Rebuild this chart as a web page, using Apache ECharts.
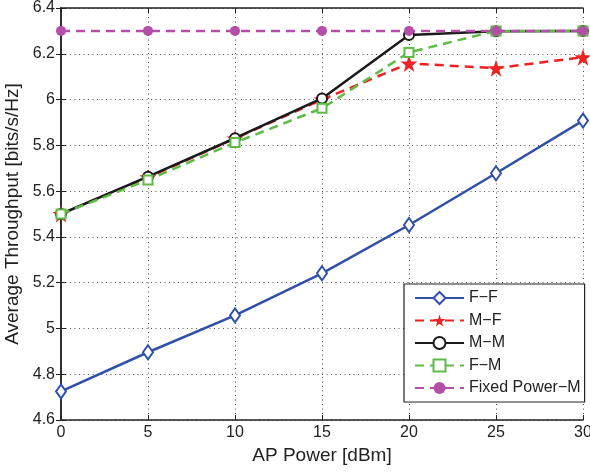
<!DOCTYPE html>
<html>
<head>
<meta charset="utf-8">
<script src="https://cdn.jsdelivr.net/npm/echarts@6/dist/echarts.min.js"></script>
<style>
  html, body { margin: 0; padding: 0; background: #fff; }
  #chart { width: 590px; height: 472px; }
</style>
</head>
<body>
<div id="chart"></div>
<script>
// AP transmit power (dBm)
const apPower = [0, 5, 10, 15, 20, 25, 30];

// Average throughput per scheme (bits/s/Hz)
const ffValues    = [4.725, 4.896, 5.057, 5.241, 5.452, 5.678, 5.908];
const mfValues    = [5.50, 5.66, 5.83, 6.00, 6.158, 6.137, 6.185];
const mmValues    = [5.50, 5.663, 5.831, 6.005, 6.282, 6.298, 6.30];
const fmValues    = [5.50, 5.649, 5.812, 5.962, 6.206, 6.30, 6.30];
const fixedValues = [6.30, 6.30, 6.30, 6.30, 6.30, 6.30, 6.30];

const seriesNames = ['F\u2212F', 'M\u2212F', 'M\u2212M', 'F\u2212M', 'Fixed Power\u2212M'];

const yTicks = [4.6, 4.8, 5, 5.2, 5.4, 5.6, 5.8, 6, 6.2, 6.4];
const xTicks = [0, 5, 10, 15, 20, 25, 30];

const starPath = 'path://M50,0 L61.8,35.1 L98.9,35.1 L68.9,56.8 L80.3,91.9 L50,70.2 L19.7,91.9 L31.1,56.8 L1.1,35.1 L38.2,35.1 Z';

const FONT = 'Liberation Sans, Arial, Helvetica, sans-serif';
const TEXT = '#222';

function pairs(vals) { return apPower.map((x, i) => [x, vals[i]]); }

const chart = echarts.init(document.getElementById('chart'), null, { renderer: 'canvas' });

const frameLine = { show: true, lineStyle: { color: '#222', width: 1.5 } };
const innerTick = { show: true, inside: true, length: 5, lineStyle: { color: '#222' } };
const dotGrid = { show: true, lineStyle: { color: '#555', width: 1, type: [1, 3.5] } };

chart.setOption({
  animation: false,
  backgroundColor: '#fff',
  grid: { left: 61, top: 8, right: 7, bottom: 52, containLabel: false, outerBoundsMode: 'none' },
  legend: {
    orient: 'vertical',
    left: 404,
    top: 284,
    padding: [6, 4, 6, 10],
    itemWidth: 49,
    itemHeight: 15,
    itemGap: 6.5,
    backgroundColor: '#fff',
    borderColor: '#222',
    borderWidth: 1.2,
    borderRadius: 0,
    textStyle: { fontFamily: FONT, fontSize: 16, color: TEXT },
    data: seriesNames
  },
  xAxis: [{
    type: 'value',
    min: 0, max: 30, interval: 5,
    name: 'AP Power [dBm]',
    nameLocation: 'middle',
    nameGap: 25,
    nameTextStyle: { fontFamily: FONT, fontSize: 19, color: TEXT },
    axisLine: frameLine,
    axisTick: innerTick,
    axisLabel: { fontFamily: FONT, fontSize: 16, color: TEXT, margin: 5,
      formatter: v => xTicks.includes(v) ? String(v) : '' },
    splitLine: dotGrid
  }, {
    type: 'value', position: 'top',
    min: 0, max: 30, interval: 5,
    axisLine: frameLine,
    axisTick: innerTick,
    axisLabel: { show: false },
    splitLine: { show: false }
  }],
  yAxis: [{
    type: 'value',
    min: 4.6, max: 6.4, interval: 0.2,
    name: 'Average Throughput [bits/s/Hz]',
    nameLocation: 'middle',
    nameGap: 34,
    nameTextStyle: { fontFamily: FONT, fontSize: 19, color: TEXT },
    axisLine: frameLine,
    axisTick: innerTick,
    axisLabel: { fontFamily: FONT, fontSize: 16, color: TEXT, margin: 6,
      formatter: v => {
        const r = Math.round(v * 10) / 10;
        return yTicks.includes(r) ? String(r) : '';
      } },
    splitLine: dotGrid
  }, {
    type: 'value', position: 'right',
    min: 4.6, max: 6.4, interval: 0.2,
    axisLine: frameLine,
    axisTick: innerTick,
    axisLabel: { show: false },
    splitLine: { show: false }
  }],
  series: [
    {
      name: seriesNames[0], type: 'line', data: pairs(ffValues),
      symbol: 'emptyDiamond', symbolSize: [10, 14], showAllSymbol: true,
      lineStyle: { color: '#3050a8', width: 2.5 },
      itemStyle: { color: '#3050a8', borderColor: '#3050a8', borderWidth: 2.5 },
      z: 2
    },
    {
      name: seriesNames[1], type: 'line', data: pairs(mfValues),
      symbol: starPath, symbolSize: 17,
      lineStyle: { color: '#ee2222', width: 2.5, type: [9, 6] },
      itemStyle: { color: '#ee2222', borderWidth: 0 },
      z: 3
    },
    {
      name: seriesNames[2], type: 'line', data: pairs(mmValues),
      symbol: 'emptyCircle', symbolSize: 10,
      lineStyle: { color: '#1a1a1a', width: 2.5 },
      itemStyle: { color: '#1a1a1a', borderColor: '#1a1a1a', borderWidth: 2.5 },
      z: 4
    },
    {
      name: seriesNames[3], type: 'line', data: pairs(fmValues),
      symbol: 'emptyRect', symbolSize: 9,
      lineStyle: { color: '#5fba46', width: 2.5, type: [9, 6] },
      itemStyle: { color: '#5fba46', borderColor: '#5fba46', borderWidth: 2.5 },
      z: 5
    },
    {
      name: seriesNames[4], type: 'line', data: pairs(fixedValues),
      symbol: 'circle', symbolSize: 10,
      lineStyle: { color: '#b44fa8', width: 2.5, type: [9, 6] },
      itemStyle: { color: '#b44fa8', borderWidth: 0 },
      z: 6
    }
  ]
});
</script>
</body>
</html>
